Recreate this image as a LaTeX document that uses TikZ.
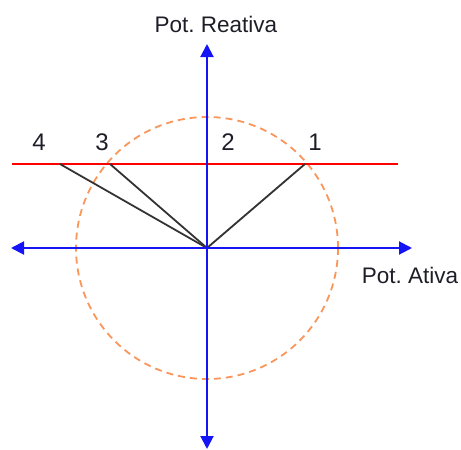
\documentclass[tikz,border=0pt]{standalone}
\usepackage{fontspec}
\setmainfont{Liberation Sans}
\usetikzlibrary{arrows.meta}
\definecolor{axisblue}{RGB}{20,20,245}
\definecolor{circorange}{RGB}{250,150,90}
\definecolor{txt}{RGB}{30,30,40}
\tikzset{
  axis/.style={draw=axisblue, line width=2pt, {Triangle[length=13pt,width=13pt]}-{Triangle[length=13pt,width=13pt]}},
  circ/.style={draw=circorange, line width=1.8pt, dash pattern=on 7pt off 5pt},
  redline/.style={draw=red, line width=1.8pt},
  vec/.style={draw=black!80, line width=1.8pt},
  lbl/.style={inner sep=0pt, anchor=base, text=txt, font=\fontsize{22.5}{27}\selectfont}
}
\begin{document}
\frenchspacing
\begin{tikzpicture}[x=1pt,y=-1pt]
\useasboundingbox (0,0) rectangle (461,450);
% coordinates
\coordinate (O) at (207,248);
\coordinate (Ytop) at (207,44);
\coordinate (Ybot) at (207,449);
\coordinate (Xl) at (11,248);
\coordinate (Xr) at (412,248);
\coordinate (Rl) at (12,164);
\coordinate (Rr) at (398,164);
\coordinate (P1) at (305,164);
\coordinate (P2) at (207,164);
\coordinate (P3) at (110,164);
\coordinate (P4) at (60,164);
% circle
\draw[circ] (O) circle[radius=131];
% red line
\draw[redline] (Rl) -- (Rr);
% vectors
\draw[vec] (O) -- (P4);
\draw[vec] (O) -- (P3);
\draw[vec] (O) -- (P1);
% axes
\draw[axis] (Xl) -- (Xr);
\draw[axis] (Ybot) -- (Ytop);
% labels
\node[lbl, font=\fontsize{24}{28}\selectfont] (t4) at (39,150) {4};
\node[lbl, font=\fontsize{24}{28}\selectfont] (t3) at (102,150) {3};
\node[lbl, font=\fontsize{24}{28}\selectfont] (t2) at (228,150) {2};
\node[lbl, font=\fontsize{24}{28}\selectfont] (t1) at (315,150) {1};
\node[lbl] (lr) at (216,32) {Pot. Reativa};
\node[lbl] (la) at (410,283) {Pot. Ativa};
\end{tikzpicture}
\end{document}
